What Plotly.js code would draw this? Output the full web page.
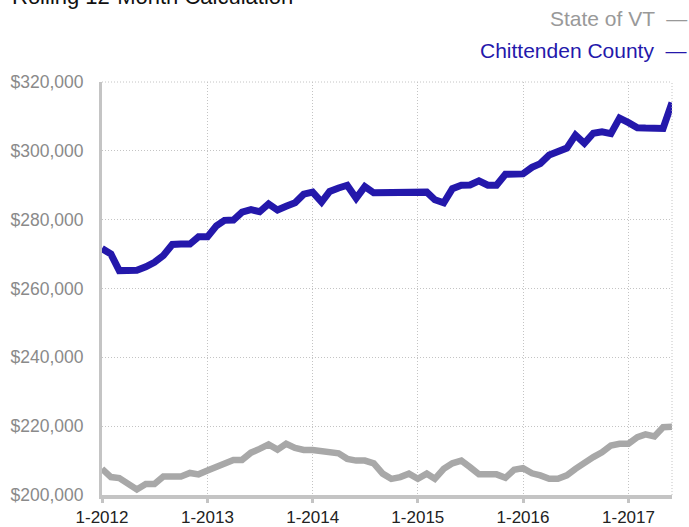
<!DOCTYPE html>
<html>
<head>
<meta charset="utf-8">
<script src="https://cdn.plot.ly/plotly-3.0.1.min.js"></script>
<style>html,body{margin:0;padding:0;background:#fff;}#chart{width:689px;height:527px;}</style>
</head>
<body>
<div id="chart"></div>
<script>
// Monthly categories: 1-2012 through 6-2017
const startYear = 2012;
const monthCount = 66;
const months = [];
for (let i = 0; i < monthCount; i++) {
  const y = startYear + Math.floor(i / 12);
  const m = (i % 12) + 1;
  months.push(y + '-' + String(m).padStart(2, '0') + '-01');
}

const chittenden = [
  271600, 270000, 265200, 265000, 265300, 266300, 267600, 269600, 272800, 272900,
  272900, 275000, 275000, 278200, 279800, 279900, 282200, 282900, 282300, 284600,
  282800, 283900, 284900, 287400, 288000, 285100, 288200, 289200, 290000, 286200,
  289600, 287800, 287900, 288000, 288000, 288100, 288000, 288000, 285800, 284900,
  289000, 290000, 290100, 291300, 290000, 290000, 293200, 293200, 293300, 295200,
  296300, 298800, 299800, 300800, 304600, 302200, 305100, 305500, 305000, 309500,
  308200, 306700, 306600, 306400, 306500, 314000
];

const stateVT = [
  207600, 205200, 204900, 203400, 201600, 203200, 203200, 205400, 205400, 205400,
  206400, 206000, 207100, 208300, 209400, 210200, 210200, 212300, 213400, 214700,
  213200, 214900, 213700, 213100, 213100, 212700, 212700, 212100, 210500, 210000,
  210000, 209200, 206200, 204700, 205200, 206200, 204700, 206200, 204700, 207600,
  209200, 210000, 208100, 206000, 206000, 206000, 205000, 207300, 207800, 206300,
  205700, 204700, 204700, 205700, 207600, 209500, 211000, 212400, 214400, 214900,
  214900, 216800, 217600, 217000, 219700, 219800
];

const xTickVals = ['2012-01-01', '2013-01-01', '2014-01-01', '2015-01-01', '2016-01-01', '2017-01-01'];
const xTickText = ['1-2012', '1-2013', '1-2014', '1-2015', '1-2016', '1-2017'];
const yTickVals = [200000, 220000, 240000, 260000, 280000, 300000, 320000];
const yTickText = ['$200,000', '$220,000', '$240,000', '$260,000', '$280,000', '$300,000', '$320,000'];

const blue = '#2418ab';
const gray = '#a8a8a8';
const font = 'Liberation Sans, Arial, Helvetica, sans-serif';

const traces = [
  {x: months, y: stateVT, type: 'scatter', mode: 'lines', name: 'State of VT',
   line: {color: gray, width: 6.5, shape: 'linear'}, hoverinfo: 'x+y'},
  {x: months, y: chittenden, type: 'scatter', mode: 'lines', name: 'Chittenden County',
   line: {color: blue, width: 7, shape: 'linear'}, hoverinfo: 'x+y'}
];

const layout = {
  width: 689, height: 527,
  margin: {l: 102, r: 17, t: 82, b: 32, pad: 0},
  paper_bgcolor: '#fff', plot_bgcolor: '#fff',
  showlegend: false,
  font: {family: font, size: 17, color: '#222'},
  xaxis: {
    type: 'date',
    range: ['2012-01-01', '2017-06-01'],
    tickmode: 'array', tickvals: xTickVals, ticktext: xTickText,
    showgrid: true, gridcolor: '#c4c4c4', gridwidth: 1, griddash: '1px,2px',
    showline: true, linecolor: '#c4c4c4', linewidth: 4,
    ticks: 'outside', ticklen: 4, tickwidth: 3, tickcolor: '#c4c4c4',
    tickfont: {family: font, size: 17, color: '#222'},
    zeroline: false, fixedrange: true
  },
  yaxis: {
    range: [200000, 320000],
    tickmode: 'array', tickvals: yTickVals, ticktext: yTickText,
    showgrid: true, gridcolor: '#c4c4c4', gridwidth: 1, griddash: '1px,2px',
    showline: true, linecolor: '#c4c4c4', linewidth: 3,
    ticks: 'outside', ticklen: 12, tickcolor: 'rgba(0,0,0,0)',
    tickfont: {family: font, size: 17.5, color: '#8a8a8a'},
    zeroline: false, fixedrange: true
  },
  shapes: [
    {type: 'line', xref: 'paper', yref: 'paper', x0: 1, x1: 1, y0: 0, y1: 1,
     line: {color: '#c4c4c4', width: 1, dash: '1px,2px'}},
    {type: 'line', xref: 'paper', yref: 'paper', x0: 0, x1: 1, y0: 1, y1: 1,
     line: {color: '#c4c4c4', width: 1, dash: '1px,2px'}}
  ],
  annotations: [
    {text: 'Rolling 12-Month Calculation', xref: 'paper', yref: 'paper',
     x: -0.162, y: 1.172, xanchor: 'left', yanchor: 'bottom', showarrow: false,
     font: {family: font, size: 22, color: '#111'}},
    {text: 'State of VT  —', xref: 'paper', yref: 'paper',
     x: 1.03, y: 1.153, xanchor: 'right', yanchor: 'middle', showarrow: false,
     font: {family: font, size: 21, color: '#999'}},
    {text: 'Chittenden County  —', xref: 'paper', yref: 'paper',
     x: 1.03, y: 1.077, xanchor: 'right', yanchor: 'middle', showarrow: false,
     font: {family: font, size: 21, color: blue}}
  ]
};

Plotly.newPlot('chart', traces, layout, {displayModeBar: false, staticPlot: true});
</script>
</body>
</html>
